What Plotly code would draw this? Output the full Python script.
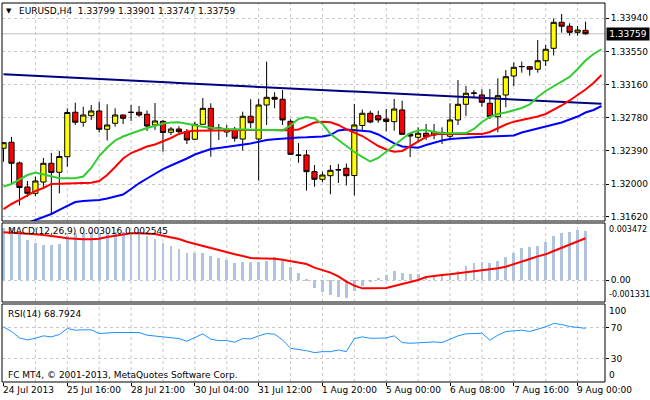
import plotly.graph_objects as go

# ---------------- data ----------------
bar_index = list(range(74))
opens = [1.32420, 1.32490, 1.32248, 1.31967, 1.31893, 1.32025, 1.32244, 1.32139, 1.32321, 1.32841,
         1.32724, 1.32801, 1.32856, 1.32642, 1.32712, 1.32809, 1.32840, 1.32841, 1.32817, 1.32692,
         1.32735, 1.32607, 1.32645, 1.32614, 1.32525, 1.32700, 1.32887, 1.32651, 1.32610, 1.32642,
         1.32528, 1.32794, 1.32528, 1.32926, 1.33016, 1.32993, 1.32735, 1.32341, 1.32341, 1.32146,
         1.32057, 1.32099, 1.32166, 1.32186, 1.32101, 1.32686, 1.32829, 1.32801, 1.32762, 1.32731,
         1.32868, 1.32587, 1.32548, 1.32595, 1.32575, 1.32605, 1.32560, 1.32751, 1.32934, 1.33063,
         1.33043, 1.32946, 1.32789, 1.33043, 1.33265, 1.33374, 1.33374, 1.33344, 1.33444, 1.33589,
         1.33893, 1.33847, 1.33776, 1.33799]
highs = [1.32493, 1.32552, 1.32265, 1.32037, 1.32088, 1.32306, 1.32365, 1.32388, 1.32887, 1.32953,
         1.32906, 1.32926, 1.32965, 1.32934, 1.32887, 1.32815, 1.32926, 1.32914, 1.32862, 1.32949,
         1.32751, 1.32669, 1.32677, 1.32645, 1.32731, 1.33008, 1.32946, 1.32704, 1.32692, 1.32669,
         1.32848, 1.32993, 1.32996, 1.33433, 1.33075, 1.33102, 1.32760, 1.32480, 1.32400, 1.32224,
         1.32146, 1.32224, 1.32236, 1.32242, 1.32938, 1.32873, 1.32859, 1.32859, 1.32879, 1.32996,
         1.32976, 1.32599, 1.32665, 1.32704, 1.32704, 1.32665, 1.32946, 1.33218, 1.33148, 1.33102,
         1.33110, 1.33113, 1.33238, 1.33335, 1.33425, 1.33433, 1.33382, 1.33686, 1.33628, 1.33938,
         1.33990, 1.33882, 1.33850, 1.33901]
lows = [1.32263, 1.32014, 1.31751, 1.31850, 1.31862, 1.31967, 1.31651, 1.31893, 1.32204, 1.32692,
        1.32672, 1.32751, 1.32604, 1.32511, 1.32672, 1.32704, 1.32739, 1.32786, 1.32622, 1.32634,
        1.32380, 1.32575, 1.32587, 1.32470, 1.32517, 1.32698, 1.32321, 1.32517, 1.32552, 1.32497,
        1.32392, 1.32657, 1.32041, 1.32692, 1.32887, 1.32692, 1.32341, 1.32250, 1.31924, 1.31970,
        1.32025, 1.31882, 1.32014, 1.31985, 1.31868, 1.32634, 1.32712, 1.32719, 1.32616, 1.32625,
        1.32575, 1.32318, 1.32493, 1.32517, 1.32525, 1.32470, 1.32517, 1.32692, 1.32797, 1.33016,
        1.32906, 1.32762, 1.32607, 1.32899, 1.33148, 1.33304, 1.33269, 1.33304, 1.33382, 1.33505,
        1.33772, 1.33737, 1.33737, 1.33747]
closes = [1.32485, 1.32244, 1.31961, 1.31893, 1.32037, 1.32244, 1.32137, 1.32324, 1.32838, 1.32724,
          1.32809, 1.32856, 1.32642, 1.32692, 1.32809, 1.32771, 1.32840, 1.32809, 1.32680, 1.32739,
          1.32604, 1.32645, 1.32614, 1.32517, 1.32700, 1.32887, 1.32645, 1.32657, 1.32642, 1.32537,
          1.32794, 1.32719, 1.32926, 1.33016, 1.32993, 1.32751, 1.32349, 1.32338, 1.32146, 1.32057,
          1.32107, 1.32162, 1.32168, 1.32099, 1.32692, 1.32829, 1.32727, 1.32751, 1.32733, 1.32879,
          1.32583, 1.32563, 1.32595, 1.32555, 1.32610, 1.32600, 1.32751, 1.32934, 1.33063, 1.33066,
          1.32958, 1.32789, 1.33035, 1.33257, 1.33367, 1.33376, 1.33344, 1.33444, 1.33578, 1.33893,
          1.33847, 1.33776, 1.33803, 1.33759]

# moving averages (drawn 2 bars ahead of the last candle)
ma_pos = list(range(76))
ma_green = [1.31972, 1.32002, 1.32054, 1.32107, 1.32136, 1.32113, 1.32084, 1.32068, 1.32068, 1.32068,
            1.32089, 1.32189, 1.32329, 1.32429, 1.32511, 1.32557, 1.32593, 1.32628, 1.32657, 1.32680,
            1.32710, 1.32721, 1.32724, 1.32707, 1.32686, 1.32672, 1.32660, 1.32651, 1.32645, 1.32642,
            1.32639, 1.32634, 1.32634, 1.32634, 1.32634, 1.32628, 1.32686, 1.32762, 1.32786, 1.32768,
            1.32704, 1.32587, 1.32517, 1.32446, 1.32376, 1.32318, 1.32265, 1.32306, 1.32376, 1.32452,
            1.32528, 1.32598, 1.32628, 1.32634, 1.32610, 1.32598, 1.32595, 1.32595, 1.32598, 1.32645,
            1.32727, 1.32786, 1.32821, 1.32838, 1.32862, 1.32891, 1.32932, 1.33020, 1.33090, 1.33142,
            1.33195, 1.33254, 1.33347, 1.33447, 1.33523, 1.33578]
ma_red = [1.31709, 1.31768, 1.31815, 1.31867, 1.31920, 1.31955, 1.32002, 1.32005, 1.32008, 1.32008,
          1.32010, 1.32017, 1.32037, 1.32107, 1.32201, 1.32300, 1.32364, 1.32405, 1.32440, 1.32464,
          1.32499, 1.32540, 1.32587, 1.32616, 1.32625, 1.32625, 1.32625, 1.32625, 1.32628, 1.32630,
          1.32634, 1.32634, 1.32630, 1.32628, 1.32628, 1.32628, 1.32630, 1.32639, 1.32680, 1.32721,
          1.32731, 1.32724, 1.32692, 1.32642, 1.32602, 1.32563, 1.32505, 1.32446, 1.32405, 1.32380,
          1.32388, 1.32440, 1.32499, 1.32552, 1.32583, 1.32590, 1.32587, 1.32587, 1.32587, 1.32587,
          1.32587, 1.32610, 1.32653, 1.32698, 1.32731, 1.32751, 1.32774, 1.32791, 1.32821, 1.32868,
          1.32920, 1.32979, 1.33043, 1.33107, 1.33183, 1.33277]
ma_blue = [1.31440, 1.31475, 1.31510, 1.31545, 1.31581, 1.31616, 1.31651, 1.31698, 1.31744, 1.31791,
           1.31803, 1.31809, 1.31815, 1.31832, 1.31855, 1.31879, 1.31943, 1.32010, 1.32066, 1.32125,
           1.32177, 1.32218, 1.32256, 1.32300, 1.32347, 1.32382, 1.32411, 1.32423, 1.32437, 1.32446,
           1.32458, 1.32476, 1.32497, 1.32517, 1.32525, 1.32534, 1.32540, 1.32546, 1.32548, 1.32552,
           1.32557, 1.32575, 1.32628, 1.32639, 1.32634, 1.32628, 1.32616, 1.32581, 1.32528, 1.32476,
           1.32440, 1.32429, 1.32426, 1.32458, 1.32487, 1.32511, 1.32528, 1.32536, 1.32543, 1.32552,
           1.32555, 1.32557, 1.32560, 1.32563, 1.32569, 1.32604, 1.32628, 1.32651, 1.32669, 1.32698,
           1.32721, 1.32756, 1.32791, 1.32838, 1.32868, 1.32914]
ma_navy = [1.33285, 1.33280, 1.33276, 1.33271, 1.33267, 1.33262, 1.33257, 1.33253, 1.33248, 1.33244,
           1.33239, 1.33234, 1.33230, 1.33225, 1.33221, 1.33216, 1.33211, 1.33207, 1.33202, 1.33198,
           1.33193, 1.33188, 1.33184, 1.33179, 1.33175, 1.33170, 1.33165, 1.33161, 1.33156, 1.33152,
           1.33147, 1.33142, 1.33138, 1.33133, 1.33129, 1.33124, 1.33119, 1.33115, 1.33110, 1.33106,
           1.33101, 1.33096, 1.33092, 1.33087, 1.33083, 1.33078, 1.33073, 1.33069, 1.33064, 1.33060,
           1.33055, 1.33050, 1.33046, 1.33041, 1.33037, 1.33032, 1.33027, 1.33023, 1.33018, 1.33014,
           1.33009, 1.33004, 1.33000, 1.32995, 1.32991, 1.32986, 1.32981, 1.32977, 1.32972, 1.32968,
           1.32963, 1.32958, 1.32954, 1.32949, 1.32945, 1.32940]

macd_hist = [0.003188, 0.003147, 0.002945, 0.002438, 0.002235, 0.002134, 0.002134, 0.002175, 0.002701, 0.002843,
             0.002843, 0.002904, 0.002843, 0.002843, 0.002945, 0.002904, 0.002945, 0.002904, 0.002701, 0.002499,
             0.002235, 0.002073, 0.001871, 0.001627, 0.001627, 0.001627, 0.001465, 0.001323, 0.001222, 0.001019,
             0.001080, 0.001080, 0.001121, 0.001161, 0.001384, 0.001161, 0.000817, 0.000411, 0.000047, -0.000460,
             -0.000703, -0.000908, -0.001009, -0.001111, -0.000663, -0.000359, -0.000095, 0.000148, 0.000310, 0.000553,
             0.000411, 0.000351, 0.000351, 0.000270, 0.000270, 0.000351, 0.000411, 0.000553, 0.000857, 0.001060,
             0.001121, 0.001060, 0.001181, 0.001425, 0.001668, 0.001931, 0.001992, 0.002073, 0.002337, 0.002681,
             0.002843, 0.002945, 0.003046, 0.003016]
macd_signal = [0.002904, 0.002884, 0.002843, 0.002823, 0.002793, 0.002742, 0.002691, 0.002620, 0.002539, 0.002489,
               0.002479, 0.002479, 0.002519, 0.002620, 0.002701, 0.002782, 0.002843, 0.002843, 0.002843, 0.002803,
               0.002701, 0.002600, 0.002499, 0.002335, 0.002194, 0.002093, 0.001952, 0.001830, 0.001688, 0.001567,
               0.001465, 0.001344, 0.001323, 0.001323, 0.001303, 0.001242, 0.001161, 0.001080, 0.000979, 0.000756,
               0.000614, 0.000452, 0.000229, -0.000095, -0.000338, -0.000500, -0.000500, -0.000500, -0.000480, -0.000359,
               -0.000237, -0.000136, 0.000006, 0.000188, 0.000270, 0.000310, 0.000351, 0.000411, 0.000472, 0.000513,
               0.000553, 0.000634, 0.000715, 0.000817, 0.000959, 0.001121, 0.001283, 0.001445, 0.001567, 0.001769,
               0.001972, 0.002174, 0.002335, 0.002545]
rsi = [70.75, 64.73, 56.56, 53.98, 56.13, 59.14, 57.85, 60.86, 68.60, 66.45,
       66.88, 66.88, 62.15, 63.01, 63.44, 63.44, 63.44, 63.44, 60.00, 58.71,
       57.85, 56.99, 55.70, 52.26, 56.56, 61.72, 54.84, 53.12, 53.12, 50.97,
       55.70, 55.27, 59.14, 62.15, 61.29, 53.98, 43.23, 41.94, 40.22, 37.63,
       38.92, 38.92, 41.08, 38.92, 55.70, 57.85, 56.13, 56.13, 56.56, 59.14,
       50.54, 49.68, 50.11, 50.54, 51.40, 50.54, 55.27, 59.14, 61.72, 62.58,
       62.58, 53.55, 60.00, 64.73, 66.02, 66.45, 64.73, 67.31, 70.75, 75.05,
       73.76, 71.18, 69.89, 68.7924]

price_ticks = [1.31620, 1.32000, 1.32390, 1.32780, 1.33160, 1.33550, 1.33940]
last_price = 1.33759
date_tick_index = [0, 8, 16, 24, 32, 40, 48, 56, 64, 72]
date_tick_text = ["24 Jul 2013", "25 Jul 16:00", "28 Jul 21:00", "30 Jul 04:00", "31 Jul 12:00",
                  "1 Aug 20:00", "5 Aug 00:00", "6 Aug 08:00", "7 Aug 16:00", "9 Aug 00:00"]
grid_index = list(range(4, 74, 4))
macd_max, macd_min = 0.003472, -0.001331

symbol_title = "EURUSD,H4  1.33799 1.33901 1.33747 1.33759"
macd_title = "MACD(12,26,9) 0.003016 0.002545"
rsi_title = "RSI(14) 68.7924"
copyright_text = "FC MT4, © 2001-2013, MetaQuotes Software Corp."

# ---------------- figure ----------------
FONT = "DejaVu Sans"
FS = 9
GRID = "#c8c8c8"
DASH = "3px,3px"

dom_main = [0.4248, 1.0]
dom_macd = [0.21108, 0.41953]
dom_rsi = [0.0, 0.2058]

fig = go.Figure()

fig.add_trace(go.Candlestick(
    x=bar_index, open=opens, high=highs, low=lows, close=closes,
    increasing=dict(line=dict(color="black", width=1), fillcolor="#ffff00"),
    decreasing=dict(line=dict(color="black", width=1), fillcolor="#ff0000"),
    whiskerwidth=0, xaxis="x", yaxis="y", hoverinfo="skip"))

for vals, col in [(ma_navy, "#000080"), (ma_blue, "#0000ff"), (ma_red, "#ff0000"), (ma_green, "#32cd32")]:
    fig.add_trace(go.Scatter(x=ma_pos, y=vals, mode="lines", line=dict(color=col, width=2),
                             xaxis="x", yaxis="y", hoverinfo="skip"))

fig.add_trace(go.Bar(x=bar_index, y=macd_hist, width=0.35, marker=dict(color="#b0c4de", line=dict(width=0)),
                     xaxis="x", yaxis="y2", hoverinfo="skip"))
fig.add_trace(go.Scatter(x=bar_index, y=macd_signal, mode="lines", line=dict(color="#ff0000", width=2),
                         xaxis="x", yaxis="y2", hoverinfo="skip"))
fig.add_trace(go.Scatter(x=bar_index, y=rsi, mode="lines", line=dict(color="#1e90ff", width=1),
                         xaxis="x", yaxis="y3", hoverinfo="skip"))

yax_common = dict(anchor="x", side="right", ticks="outside", ticklen=3, tickcolor="black",
                  showgrid=True, gridcolor=GRID, griddash=DASH, gridwidth=1,
                  zeroline=False, showline=False, fixedrange=True,
                  tickfont=dict(family=FONT, size=FS, color="black"))

fig.update_layout(
    width=650, height=400,
    margin=dict(l=2, r=43, t=3, b=18),
    paper_bgcolor="white", plot_bgcolor="white",
    showlegend=False, bargap=0,
    boxgap=0.35, boxgroupgap=0,
    font=dict(family=FONT, size=FS, color="black"),
    xaxis=dict(domain=[0, 1], anchor="y3", range=[-0.19, 75.44],
               tickvals=date_tick_index, showticklabels=False, ticks="outside", ticklen=3,
               tickcolor="black", showgrid=False, zeroline=False, showline=False,
               rangeslider=dict(visible=False), fixedrange=True),
    yaxis=dict(domain=dom_main, range=[1.31569, 1.34119], tickvals=price_ticks,
               ticktext=[f"{v:.5f}" for v in price_ticks], **yax_common),
    yaxis2=dict(domain=dom_macd, range=[macd_min, macd_max], tickvals=[0], ticktext=["0.00"], **yax_common),
    yaxis3=dict(domain=dom_rsi, range=[0, 100], tickvals=[30, 70], ticktext=["30", "70"], **yax_common),
)

shapes = []
# vertical dashed grid in every panel
for g in grid_index:
    for d in (dom_main, dom_macd, dom_rsi):
        shapes.append(dict(type="line", xref="x", yref="paper", x0=g, x1=g, y0=d[0], y1=d[1],
                           line=dict(color=GRID, width=1, dash=DASH), layer="below"))
# current price line
shapes.append(dict(type="line", xref="paper", yref="y", x0=0, x1=1, y0=last_price, y1=last_price,
                   line=dict(color="#c0c0c0", width=1), layer="below"))
# panel borders
for d in (dom_main, dom_macd, dom_rsi):
    shapes.append(dict(type="rect", xref="paper", yref="paper", x0=0, x1=1, y0=d[0], y1=d[1],
                       line=dict(color="black", width=1), fillcolor="rgba(0,0,0,0)", layer="above"))
fig.update_layout(shapes=shapes)

ann = []
txt = dict(family=FONT, size=FS, color="black")
ann.append(dict(xref="paper", yref="paper", x=0.0124, y=0.9789, text="▼", showarrow=False,
                xanchor="center", yanchor="middle", font=dict(family=FONT, size=7, color="black")))
ann.append(dict(xref="paper", yref="paper", x=0.0264, y=0.9789, text=symbol_title, showarrow=False,
                xanchor="left", yanchor="middle", font=txt, borderpad=0))
ann.append(dict(xref="paper", yref="paper", x=0.0083, y=0.3984, text=macd_title, showarrow=False,
                xanchor="left", yanchor="middle", font=txt, borderpad=0))
ann.append(dict(xref="paper", yref="paper", x=0.0083, y=0.1802, text=rsi_title, showarrow=False,
                xanchor="left", yanchor="middle", font=txt, borderpad=0))
ann.append(dict(xref="paper", yref="paper", x=0.0083, y=0.0193, text=copyright_text, showarrow=False,
                xanchor="left", yanchor="middle", font=txt, borderpad=0))
for i, t in zip(date_tick_index, date_tick_text):
    ann.append(dict(xref="x", yref="paper", x=i - 0.15, y=-0.0224, text=t, showarrow=False,
                    xanchor="left", yanchor="middle", font=txt, borderpad=0))
# inset extreme labels of the indicator windows
small = dict(family=FONT, size=8, color="black")
for yref, val, shift, text, f in [("y2", macd_max, -7, "0.003472", small), ("y2", macd_min, 7, "-0.001331", small),
                                  ("y3", 100, -7, "100", txt), ("y3", 0, 7, "0", txt)]:
    ann.append(dict(xref="paper", yref=yref, x=1, y=val, xshift=3, yshift=shift, text=text,
                    showarrow=False, xanchor="left", yanchor="middle", font=f, borderpad=0))
# last price tag
ann.append(dict(xref="paper", yref="y", x=1, y=last_price, xshift=1, text=f"{last_price:.5f}",
                showarrow=False, xanchor="left", yanchor="middle", bgcolor="black",
                font=dict(family=FONT, size=FS, color="white"), width=40, height=10,
                align="center", borderpad=1))
fig.update_layout(annotations=ann)

fig.write_html("out.html", config={"displayModeBar": False},
               post_script="document.body.style.margin='0';document.body.style.overflow='hidden';")
